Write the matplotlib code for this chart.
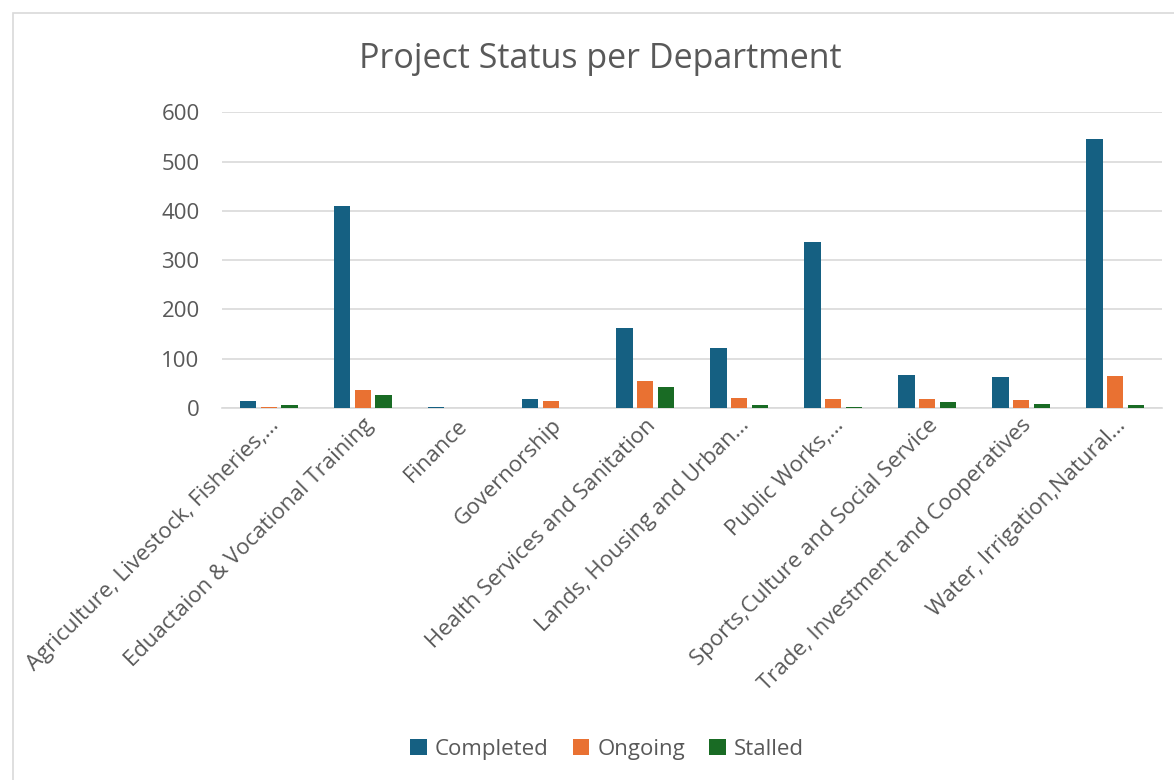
import numpy as np
import matplotlib.pyplot as plt
from matplotlib.patches import Rectangle

departments = [
    "Agriculture, Livestock, Fisheries,…",
    "Eduactaion & Vocational Training",
    "Finance",
    "Governorship",
    "Health Services and Sanitation",
    "Lands, Housing and Urban…",
    "Public Works,…",
    "Sports,Culture and Social Service",
    "Trade, Investment and Cooperatives",
    "Water, Irrigation,Natural…",
]
completed = [15, 410, 1, 19, 162, 121, 337, 67, 63, 545]
ongoing = [1, 37, 0, 14, 54, 21, 19, 19, 17, 65]
stalled = [6, 27, 0, 0, 42, 5, 1, 12, 7, 5]

colors = {"Completed": "#156082", "Ongoing": "#E97132", "Stalled": "#196B24"}
txt = "#595959"

plt.rcParams['font.family'] = ['Open Sans', 'DejaVu Sans']

fig = plt.figure(figsize=(11.74, 7.8), dpi=100)
ax = fig.add_axes([0.189, 0.477, 0.801, 0.379])

x = np.arange(len(departments))
w = 0.175
off = 0.221
ax.bar(x - off, completed, w, color=colors["Completed"], label="Completed", zorder=3)
ax.bar(x, ongoing, w, color=colors["Ongoing"], label="Ongoing", zorder=3)
ax.bar(x + off, stalled, w, color=colors["Stalled"], label="Stalled", zorder=3)

ax.set_xlim(-0.5, len(departments) - 0.5)
ax.set_ylim(0, 600)
ax.set_yticks(range(0, 601, 100))
ax.yaxis.grid(True, color="#D9D9D9", linewidth=1.2, zorder=0)
ax.set_axisbelow(True)
for s in ["top", "right", "left"]:
    ax.spines[s].set_visible(False)
ax.spines["bottom"].set_color("#D9D9D9")
ax.spines["bottom"].set_linewidth(1.2)
ax.tick_params(length=0, colors=txt, labelsize=16)
ax.tick_params(axis="y", pad=16)
ax.tick_params(axis="x", pad=5)
ax.set_xticks(x)
ax.set_xticklabels(departments, rotation=45, ha="right", rotation_mode="anchor")

fig.text(0.511, 0.925, "Project Status per Department", ha="center", va="center",
         fontsize=24.5, color=txt)

leg = fig.legend(loc="center", bbox_to_anchor=(0.517, 0.039), ncol=3, frameon=False,
                 fontsize=16, handlelength=0.75, handleheight=0.75, handletextpad=0.35,
                 columnspacing=1.1, labelcolor=txt)

fig.patches.append(Rectangle((0.011, -0.01), 0.99, 0.993, transform=fig.transFigure,
                             fill=False, edgecolor="#D9D9D9", linewidth=1.2))

fig.savefig("out.png", dpi=100)
